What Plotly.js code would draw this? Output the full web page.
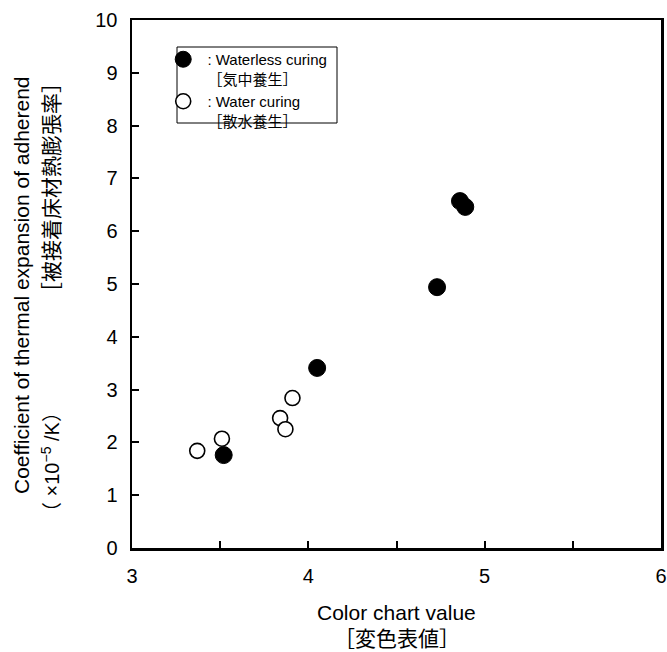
<!DOCTYPE html>
<html>
<head>
<meta charset="utf-8">
<script src="https://cdn.plot.ly/plotly-3.0.1.min.js"></script>
<style>html,body{margin:0;padding:0;background:#fff;}#chart{width:667px;height:652px;}</style>
</head>
<body>
<div id="chart"></div>
<script>
// Waterless curing (filled circles)
const waterlessX = [3.52, 4.05, 4.73, 4.86, 4.89];
const waterlessY = [1.76, 3.41, 4.94, 6.57, 6.46];
// Water curing (open circles)
const waterX = [3.37, 3.51, 3.84, 3.87, 3.91];
const waterY = [1.84, 2.07, 2.46, 2.25, 2.84];

const seriesNames = [' : Waterless curing<br> ［気中養生］', ' : Water curing<br> ［散水養生］'];
const xTitle = ['Color chart value', '［変色表値］'];
const yTitle = ['Coefficient of thermal expansion of adherend', '（ ×10<sup>−5</sup> /K）', '［被接着床材熱膨張率］'];

const FONT = '"Liberation Sans", Arial, "Noto Sans CJK JP", sans-serif';
const CJK = '"Noto Sans CJK JP", "Liberation Sans", sans-serif';

const traces = [
  {x: waterlessX, y: waterlessY, name: seriesNames[0], mode: 'markers', type: 'scatter',
   marker: {symbol: 'circle', size: 17, color: '#000', line: {color: '#000', width: 1}}},
  {x: waterX, y: waterY, name: seriesNames[1], mode: 'markers', type: 'scatter',
   marker: {symbol: 'circle', size: 15, color: '#fff', line: {color: '#000', width: 1.6}}}
];

const axisCommon = {
  showgrid: false, zeroline: false, showline: true, linecolor: '#000', linewidth: 2.5,
  mirror: true, ticks: 'inside', ticklen: 7, tickwidth: 2, tickcolor: '#000',
  tickfont: {family: FONT, size: 20, color: '#000'}
};

const layout = {
  width: 667, height: 652,
  margin: {l: 132, r: 6, t: 20, b: 104},
  paper_bgcolor: '#fff', plot_bgcolor: '#fff',
  font: {family: FONT, color: '#000'},
  showlegend: true,
  legend: {x: 0.059, y: (548-43)/528, xanchor: 'left', yanchor: 'top', borderwidth: 0,
    bgcolor: 'rgba(0,0,0,0)', font: {family: FONT, size: 15, color: '#000'}, valign: 'top',
    itemsizing: 'trace', tracegroupgap: 0},
  xaxis: Object.assign({}, axisCommon, {range: [3, 6], dtick: 1, tick0: 3, ticklabelstandoff: 8,
    minor: {dtick: 0.5, ticks: 'inside', ticklen: 7, tickwidth: 2, tickcolor: '#000'}}),
  yaxis: Object.assign({}, axisCommon, {range: [0, 10], dtick: 1, tick0: 0, ticklabelstandoff: 8}),
  shapes: [
    {type: 'rect', xref: 'paper', yref: 'paper', x0: (177-132)/529, x1: (337-132)/529,
     y0: (548-123)/528, y1: (548-47)/528, line: {color: '#000', width: 1}, fillcolor: 'rgba(0,0,0,0)'}
  ],
  annotations: [
    {text: xTitle[0], xref: 'paper', yref: 'paper', x: 0.5, y: (548-612)/528, xanchor: 'center', yanchor: 'middle',
     showarrow: false, font: {family: FONT, size: 21, color: '#000'}},
    {text: xTitle[1], xref: 'paper', yref: 'paper', x: 0.5, y: (548-637)/528, xanchor: 'center', yanchor: 'middle',
     showarrow: false, font: {family: CJK, size: 21, color: '#000'}},
    {text: yTitle[0], xref: 'paper', yref: 'paper', x: (21-132)/529, y: (548-285)/528, xanchor: 'center', yanchor: 'middle',
     textangle: -90, showarrow: false, font: {family: FONT, size: 21, color: '#000'}},
    {text: yTitle[1], xref: 'paper', yref: 'paper', x: (50-132)/529, y: (548-462)/528, xanchor: 'center', yanchor: 'middle',
     textangle: -90, showarrow: false, font: {family: FONT, size: 20, color: '#000'}},
    {text: yTitle[2], xref: 'paper', yref: 'paper', x: (50-132)/529, y: (548-188)/528, xanchor: 'center', yanchor: 'middle',
     textangle: -90, showarrow: false, font: {family: CJK, size: 21, color: '#000'}}
  ]
};

Plotly.newPlot('chart', traces, layout, {displayModeBar: false, staticPlot: true});
</script>
</body>
</html>
